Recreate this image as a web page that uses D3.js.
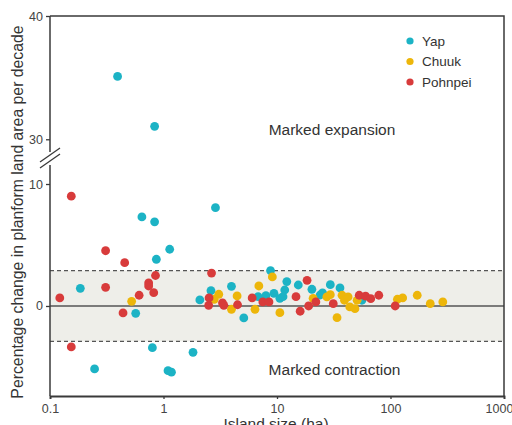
<!DOCTYPE html>
<html>
<head>
<meta charset="utf-8">
<script src="https://cdn.jsdelivr.net/npm/d3@7"></script>
<style>
  html, body { margin: 0; padding: 0; background: #fff; overflow: hidden; }
  svg { display: block; font-family: "Liberation Sans", Arial, sans-serif; }
</style>
</head>
<body>
<svg id="chart" width="512" height="425"></svg>
<script>
// Island size (ha) and percentage change in planform land area per decade
const yapSize = [0.394, 0.835, 2.87, 0.645, 0.835, 1.134, 0.865, 0.185, 0.569, 0.798, 1.82, 0.247, 1.096, 1.175, 2.09, 2.62, 3.97, 5.1, 8.77, 6.82, 7.98, 9.4, 10.6, 12.2, 11.7, 11.3, 15.4, 20.3, 29.5, 35.9, 25.2, 24, 56];
const yapChange = [35.1, 31.05, 8.06, 7.3, 6.9, 4.65, 3.83, 1.45, -0.6, -3.42, -3.8, -5.16, -5.3, -5.43, 0.5, 1.25, 1.61, -0.98, 2.9, 0.76, 0.84, 1.04, 0.63, 2.0, 1.31, 0.76, 1.72, 1.37, 1.75, 1.48, 1.07, 0.9, 0.47];

const chuukSize = [0.524, 3.07, 2.8, 3.97, 4.45, 6.92, 6.4, 9.1, 10.6, 20.8, 27.5, 29.5, 33.8, 37.4, 39.3, 42.3, 43.8, 48.6, 50.8, 115, 128, 172, 224, 289];
const chuukChange = [0.38, 0.96, 0.55, -0.27, 0.82, 1.64, -0.27, 2.38, -0.55, 0.63, 0.74, 0.93, -0.96, 0.88, 0.47, 0.74, -0.08, -0.22, 0.47, 0.55, 0.66, 0.88, 0.19, 0.33];

const pohnpeiSize = [0.154, 0.309, 0.455, 0.309, 0.122, 2.65, 0.85, 0.74, 0.74, 0.82, 0.61, 0.44, 0.154, 2.52, 2.5, 3.31, 3.4, 4.49, 6.04, 7.5, 8.5, 14.7, 18.4, 16.0, 19.0, 22.0, 31.3, 53, 60.3, 67, 78.9, 110];
const pohnpeiChange = [9.0, 4.53, 3.55, 1.53, 0.66, 2.7, 2.5, 1.89, 1.64, 1.09, 0.88, -0.57, -3.36, 0.66, 0.05, 0.25, 0.05, 0.1, 0.66, 0.33, 0.33, 0.76, 2.1, -0.43, 0.0, 0.33, 0.19, 0.88, 0.8, 0.6, 0.88, 0.0];

const seriesNames = ["Yap", "Chuuk", "Pohnpei"];
const seriesColors = ["#1cb3c5", "#edb60a", "#d83b3b"];

const xTicks = [0.1, 1, 10, 100, 1000];
const xTickLabels = ["0.1", "1", "10", "100", "1000"];
const yTicks = [0, 10, 30, 40];
const bandLimit = 2.9;           // threshold for marked change
const yLowMin = -7.38, yLowMax = 12.05, yHighMin = 28.4, yHighMax = 40;

(function draw() {
  const series = [
    { name: seriesNames[0], color: seriesColors[0], pts: d3.zip(yapSize, yapChange) },
    { name: seriesNames[1], color: seriesColors[1], pts: d3.zip(chuukSize, chuukChange) },
    { name: seriesNames[2], color: seriesColors[2], pts: d3.zip(pohnpeiSize, pohnpeiChange) }
  ];

  const svg = d3.select("#chart");
  const mLeft = 50, mRight = 504, mTop = 16, mBottom = 396, breakY = 159;
  const ink = "#3a3a3a";
  const font = "Liberation Sans, Arial, sans-serif";

  const x = d3.scaleLog().domain([0.1, 1000]).range([mLeft, mRight]);
  // broken axis: lower and upper segments meet at the break
  const y = d3.scaleLinear()
    .domain([yLowMin, yLowMax, yHighMin, yHighMax])
    .range([mBottom, breakY, breakY, mTop]);

  // band of small change
  svg.append("rect")
    .attr("x", mLeft).attr("width", mRight - mLeft)
    .attr("y", y(bandLimit)).attr("height", y(-bandLimit) - y(bandLimit))
    .attr("fill", "#eeeee9");

  [bandLimit, -bandLimit].forEach(v => {
    svg.append("line")
      .attr("x1", mLeft).attr("x2", mRight).attr("y1", y(v)).attr("y2", y(v))
      .attr("stroke", "#555").attr("stroke-width", 1.3).attr("stroke-dasharray", "4,3");
  });
  svg.append("line")
    .attr("x1", mLeft).attr("x2", mRight).attr("y1", y(0)).attr("y2", y(0))
    .attr("stroke", "#555").attr("stroke-width", 1.5);

  // frame: top and right
  svg.append("path")
    .attr("d", `M${mLeft},${mTop}H${mRight}V${mBottom}`)
    .attr("fill", "none").attr("stroke", ink).attr("stroke-width", 1.5);

  // x axis
  const xAxis = d3.axisBottom(x).tickValues(xTicks)
    .tickFormat((d, i) => xTickLabels[i]).tickSize(3).tickPadding(5);
  const gx = svg.append("g").attr("transform", `translate(0,${mBottom})`).call(xAxis);
  gx.select(".domain").attr("stroke", ink).attr("stroke-width", 1.8);
  gx.selectAll(".tick line").attr("stroke", ink).attr("stroke-width", 1.3);
  gx.selectAll(".tick text").attr("fill", "#444").attr("font-size", 12.5)
    .attr("font-family", font)
    .attr("dx", d => d === 1000 ? -5 : 0);

  // y axis with break
  const yAxis = d3.axisLeft(y).tickValues(yTicks).tickSize(4).tickPadding(3);
  const gy = svg.append("g").attr("transform", `translate(${mLeft},0)`).call(yAxis);
  gy.select(".domain").remove();
  gy.selectAll(".tick line").attr("stroke", ink).attr("stroke-width", 1.3);
  gy.selectAll(".tick text").attr("fill", "#444").attr("font-size", 12.5)
    .attr("font-family", font);

  svg.append("line").attr("x1", mLeft).attr("x2", mLeft).attr("y1", mTop).attr("y2", breakY - 7)
    .attr("stroke", ink).attr("stroke-width", 1.5);
  svg.append("line").attr("x1", mLeft).attr("x2", mLeft).attr("y1", breakY + 6).attr("y2", mBottom)
    .attr("stroke", ink).attr("stroke-width", 1.5);
  // break marks
  [-3, 3].forEach(o => {
    svg.append("line")
      .attr("x1", mLeft - 10).attr("y1", breakY + 6 + o)
      .attr("x2", mLeft + 10).attr("y2", breakY - 8 + o)
      .attr("stroke", ink).attr("stroke-width", 1.3);
  });

  // points
  series.forEach(s => {
    svg.append("g").selectAll("circle").data(s.pts).join("circle")
      .attr("cx", d => x(d[0])).attr("cy", d => y(d[1]))
      .attr("r", 4.4).attr("fill", s.color);
  });

  // region labels
  svg.append("text").attr("x", 332).attr("y", 134.5).attr("text-anchor", "middle")
    .attr("font-size", 15.5).attr("fill", "#333").text("Marked expansion");
  svg.append("text").attr("x", 334.5).attr("y", 374.5).attr("text-anchor", "middle")
    .attr("font-size", 15.5).attr("fill", "#333").text("Marked contraction");

  // legend
  const lg = svg.append("g");
  series.forEach((s, i) => {
    const ly = 41 + i * 20.5;
    lg.append("circle").attr("cx", 410).attr("cy", ly).attr("r", 3.6).attr("fill", s.color);
    lg.append("text").attr("x", 422).attr("y", ly + 4.8).attr("font-size", 13.5)
      .attr("fill", "#333").text(s.name);
  });

  // axis titles
  svg.append("text")
    .attr("transform", `translate(23,212) rotate(-90)`)
    .attr("text-anchor", "middle").attr("font-size", 15.8).attr("fill", "#333")
    .text("Percentage change in planform land area per decade");
  svg.append("text").attr("x", 276).attr("y", 429).attr("text-anchor", "middle")
    .attr("font-size", 15.5).attr("fill", "#333").text("Island size (ha)");
})();
</script>
</body>
</html>
